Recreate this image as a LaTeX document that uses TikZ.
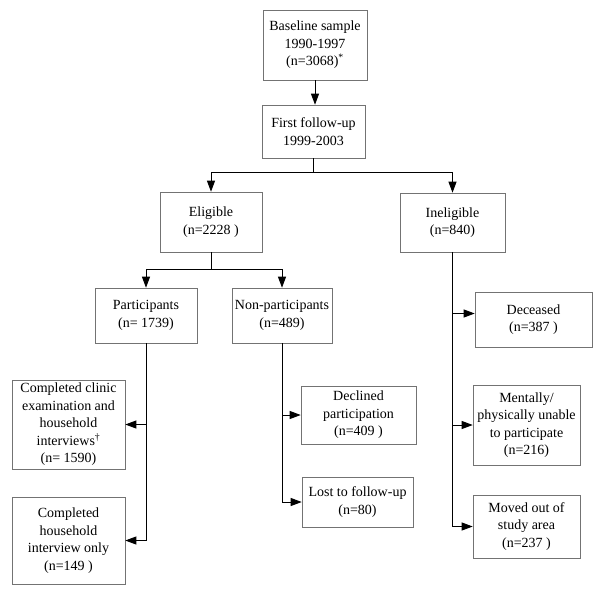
\documentclass[tikz,border=0pt]{standalone}
\usepackage{fontspec}
\setmainfont{Liberation Serif}
\usetikzlibrary{arrows.meta}

\tikzset{
 box/.style={draw=black!55, line width=.6pt, align=center, inner sep=2pt,
   font=\fontsize{14}{17.5}\selectfont},
 arr/.style={black, line width=.9pt, -{Triangle[length=11pt,width=8pt]}}
}

\begin{document}
\begin{tikzpicture} [x=1pt, y=-1pt]
\useasboundingbox (0,0) rectangle (601,594);
% top of the chart
\node[box, minimum width=104, minimum height=70] (base) at (315,45)
  {Baseline sample\\1990-1997\\(n=3068)\textsuperscript{*}};
\node[box, minimum width=103, minimum height=53] (ff) at (313.5,131.5)
  {First follow-up\\1999-2003};
\node[box, minimum width=102, minimum height=60] (elig) at (211,222)
  {Eligible\\(n=2228 )};
\node[box, minimum width=105, minimum height=59] (inel) at (452.5,222.5)
  {Ineligible\\(n=840)};
% eligible side
\node[box, minimum width=102, minimum height=55] (part) at (146,315.5)
  {Participants\\(n= 1739)};
\node[box, minimum width=100, minimum height=55] (nonpart) at (282,315.5)
  {Non-participants\\(n=489)};
\node[box, minimum width=113, minimum height=89] (clinic) at (68.5,424.5)
  {Completed clinic\\examination and\\household\\interviews\textsuperscript{\textdagger}\\(n= 1590)};
\node[box, minimum width=113, minimum height=87] (house) at (68.5,540.5)
  {Completed\\household\\interview only\\(n=149 )};
\node[box, minimum width=115, minimum height=58] (decl) at (358.5,415)
  {Declined\\participation\\(n=409 )};
\node[box, minimum width=111, minimum height=50] (lost) at (357.5,502)
  {Lost to follow-up\\(n=80)};
% ineligible side
\node[box, minimum width=117, minimum height=55] (dead) at (533.5,319.5)
  {Deceased\\(n=387 )};
\node[box, minimum width=107, minimum height=80] (unable) at (526.5,425)
  {Mentally/\\physically unable\\to participate\\(n=216)};
\node[box, minimum width=107, minimum height=63] (moved) at (526.5,526.5)
  {Moved out of\\study area\\(n=237 )};

\draw[arr] (base) -- (base|-ff.north);
\coordinate (split) at ([yshift=-14]ff.south);
\draw[arr] (ff.south) -- (split) -| (elig.north);
\draw[arr] (ff.south) -- (split) -| (inel.north);
\coordinate (split2) at ([yshift=-17]elig.south);
\draw[arr] (elig.south) -- (split2) -| (part.north);
\draw[arr] (elig.south) -- (split2) -| (nonpart.north);
\foreach \b in {clinic,house} \draw[arr] (part.south) |- (\b.east);
\foreach \b in {decl,lost} \draw[arr] (nonpart.south) |- (\b.west);
\draw[arr] (inel.south) |- ([yshift=6]dead.west);
\foreach \b in {unable,moved} \draw[arr] (inel.south) |- (\b.west);
\end{tikzpicture}
\end{document}
